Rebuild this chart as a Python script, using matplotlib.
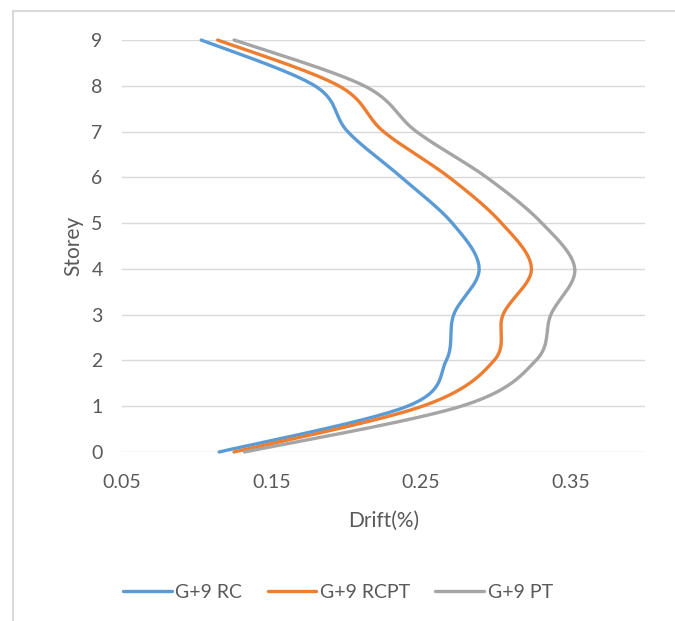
import numpy as np
import matplotlib.pyplot as plt
from matplotlib.lines import Line2D

plt.rcParams['font.family'] = ['Lato', 'DejaVu Sans']

storey = [0, 1, 2, 3, 4, 5, 6, 7, 8, 9]
drift_rc = [0.115, 0.241, 0.267, 0.272, 0.289, 0.271, 0.237, 0.201, 0.179, 0.103]
drift_rcpt = [0.125, 0.251, 0.299, 0.305, 0.324, 0.304, 0.269, 0.225, 0.195, 0.114]
drift_pt = [0.132, 0.277, 0.327, 0.337, 0.353, 0.331, 0.294, 0.247, 0.212, 0.125]
labels = ['G+9 RC', 'G+9 RCPT', 'G+9 PT']
colors = ['#5B9BD5', '#ED7D31', '#A5A5A5']


def smooth(xs, ys, n=30):
    # Catmull-Rom like Excel's smoothed line
    p = np.column_stack([xs, ys]).astype(float)
    p = np.vstack([p[0], p, p[-1]])
    out = []
    t = np.linspace(0, 1, n)[:, None]
    for i in range(1, len(p) - 2):
        p0, p1, p2, p3 = p[i - 1], p[i], p[i + 1], p[i + 2]
        c1 = p1 + (p2 - p0) / 6
        c2 = p2 - (p3 - p1) / 6
        seg = ((1 - t) ** 3) * p1 + 3 * ((1 - t) ** 2) * t * c1 + 3 * (1 - t) * t ** 2 * c2 + t ** 3 * p2
        out.append(seg if i == 1 else seg[1:])
    out = np.vstack(out)
    return out[:, 0], out[:, 1]


fig = plt.figure(figsize=(6.75, 6.21), dpi=100)
ax = fig.add_axes([122 / 675, 1 - 452 / 621, (645 - 122) / 675, (452 - 40) / 621])

for d, lab, c in zip([drift_rc, drift_rcpt, drift_pt], labels, colors):
    sx, sy = smooth(d, storey)
    ax.plot(sx, sy, color=c, lw=2.4, solid_capstyle='round', label=lab, clip_on=False)

ax.set_xlim(0.05, 0.40)
ax.set_ylim(0, 9)
ax.set_xticks([0.05, 0.15, 0.25, 0.35])
ax.set_xticklabels(['0.05', '0.15', '0.25', '0.35'])
ax.set_yticks(storey)
ax.grid(axis='y', color='#d9d9d9', lw=1)
ax.set_axisbelow(True)
for s in ax.spines.values():
    s.set_visible(False)
ax.tick_params(length=0, colors='#595959', labelsize=14, pad=14)
ax.tick_params(axis='x', pad=16)
ax.set_xlabel('Drift(%)', fontsize=15, color='#595959', labelpad=14)
ax.set_ylabel('Storey', fontsize=15, color='#595959', labelpad=6)

# outer chart border (left and top visible)
fig.add_artist(Line2D([13 / 675, 13 / 675], [0, 1 - 11 / 621], color='#d9d9d9', lw=1.5))
fig.add_artist(Line2D([13 / 675, 1], [1 - 11 / 621, 1 - 11 / 621], color='#d9d9d9', lw=1.5))

fig.legend(loc='center', bbox_to_anchor=(338 / 675, 1 - 592 / 621), ncol=3, frameon=False,
           fontsize=14, handlelength=2.5, handletextpad=0.2, columnspacing=1.3,
           labelcolor='#595959')

fig.savefig('out.png', dpi=100)
